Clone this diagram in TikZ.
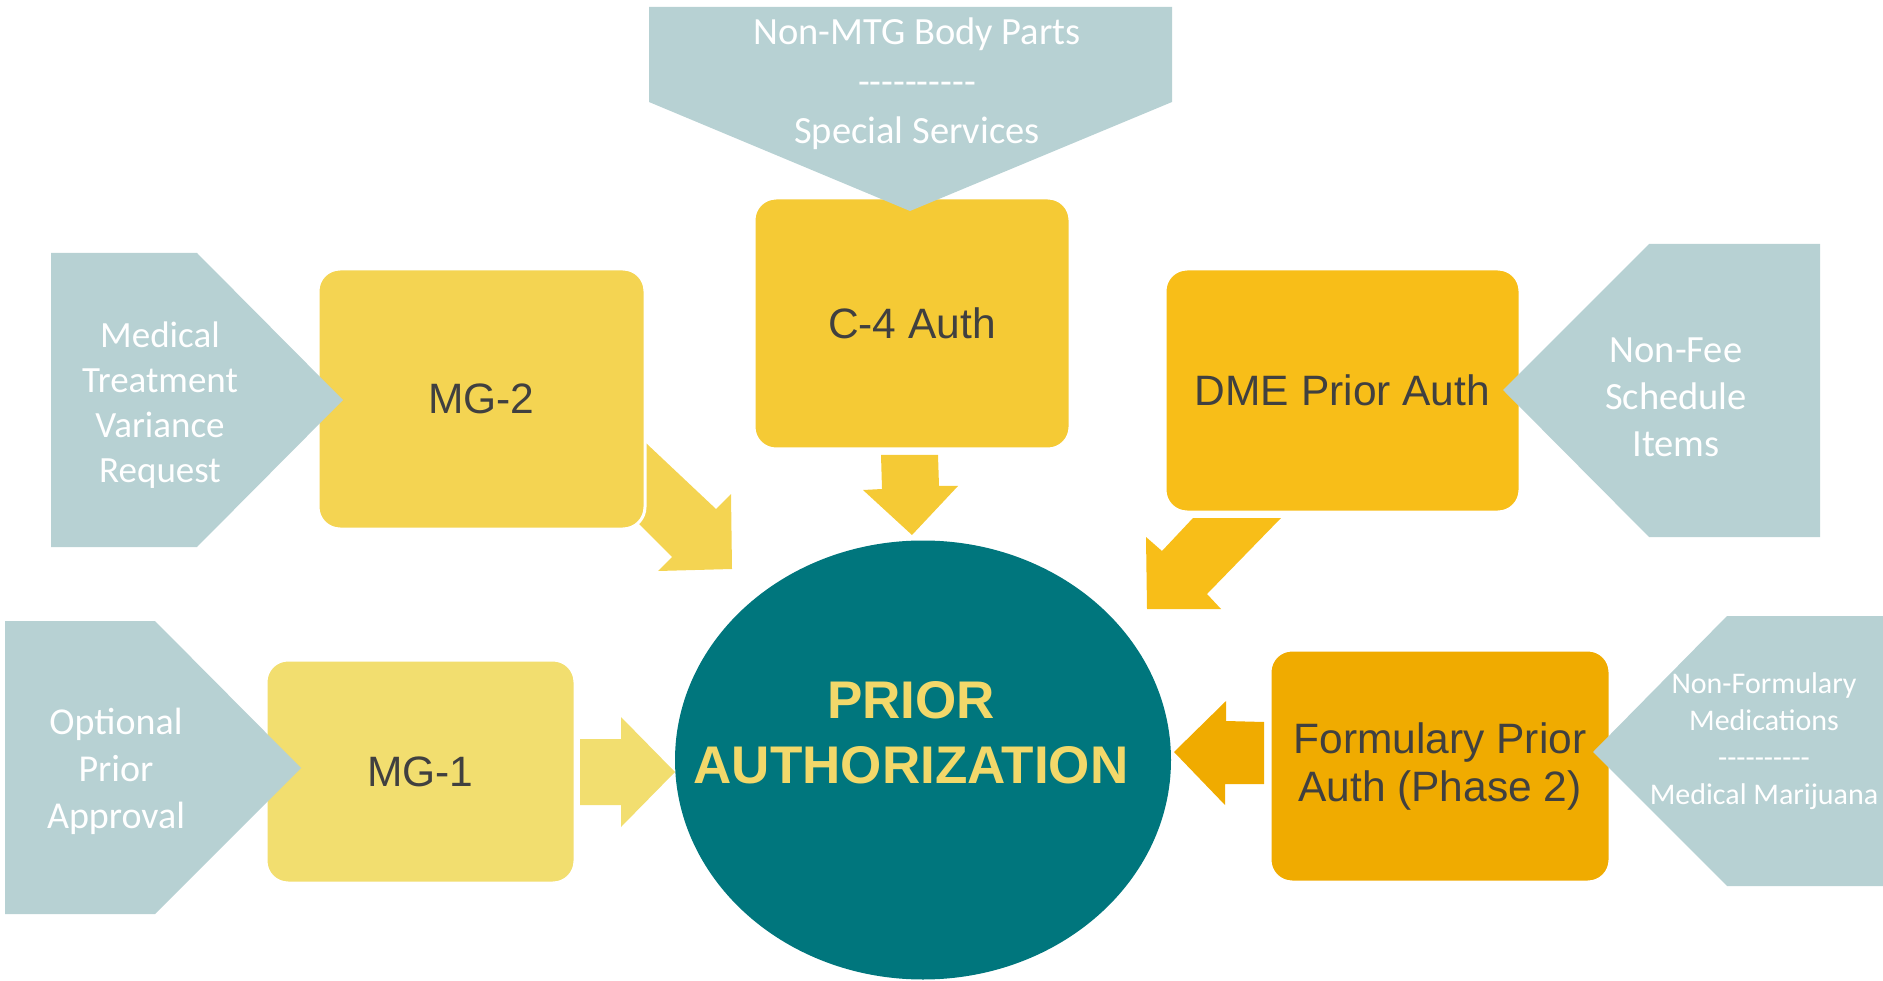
\documentclass[tikz,border=0pt]{standalone}
\usepackage{fontspec}
\newfontfamily\calib{Carlito}
\newfontfamily\arialf{Liberation Sans}
\usetikzlibrary{shapes.geometric}
\definecolor{pent}{HTML}{B7D1D3}
\definecolor{cmgone}{HTML}{F2DE6F}
\definecolor{cmgtwo}{HTML}{F4D452}
\definecolor{ccfour}{HTML}{F5CA35}
\definecolor{cdme}{HTML}{F8BE18}
\definecolor{cform}{HTML}{F0AB00}
\definecolor{cteal}{HTML}{00767D}
\definecolor{ctitle}{HTML}{F2D86A}
\definecolor{ctext}{HTML}{404040}
\begin{document}
\begin{tikzpicture}[x=1pt,y=-1pt,
  pentshape/.style={fill=pent},
  penttext/.style={text=white, align=center, inner sep=0pt},
  ybox/.style={rectangle, rounded corners=22pt, draw=white, line width=3pt,
    text=ctext, align=center, inner sep=0pt,
    font=\arialf\fontsize{42.5}{48}\selectfont},
  blockarrow/.style={draw=none}]
\useasboundingbox (0,0) rectangle (1883,981);

% centre ellipse
\node[ellipse, fill=cteal, minimum width=496pt, minimum height=439pt, inner sep=0pt] (pa) at (923,760) {};
\node[text=ctitle, align=center, inner sep=0pt,
  font=\arialf\bfseries\fontsize{53}{65}\selectfont] (patext) at (911,733) {PRIOR\\AUTHORIZATION};

% block arrows
\fill[cmgtwo] (630,428) -- (716,509) -- (731,494) -- (732,569) -- (658,571) -- (672,557) -- (620,505) -- cycle;
\fill[ccfour] (881,455) -- (938,455) -- (939,486) -- (958,486) -- (912,535) -- (863,490) -- (882,489) -- cycle;
\fill[cdme] (1193,518) -- (1281,518) -- (1207,594) -- (1221,609) -- (1147,609) -- (1146,537) -- (1162,551) -- cycle;
\fill[cmgone] (580,739) -- (621,739) -- (621,717) -- (675,772) -- (621,827) -- (621,805) -- (580,805) -- cycle;
\fill[cform] (1264,722) -- (1226,721) -- (1226,701) -- (1174,752) -- (1225,805) -- (1225,784) -- (1264,784) -- cycle;

% boxes
\node[ybox, fill=cmgtwo, minimum width=327pt, minimum height=260pt] (mg2) at (481.5,399) {MG-2};
\node[ybox, fill=ccfour, minimum width=316pt, minimum height=251pt] (c4) at (912,323.5) {C-4 Auth};
\node[ybox, fill=cdme, minimum width=355pt, minimum height=243pt] (dme) at (1342.5,390.5) {DME Prior Auth};
\node[ybox, fill=cmgone, minimum width=309pt, minimum height=223pt] (mg1) at (420.5,771.5) {MG-1};
\node[ybox, fill=cform, minimum width=340pt, minimum height=232pt] (form) at (1440,766) {Formulary Prior\\Auth (Phase 2)};

% pentagons
\fill[pentshape] (649,7) -- (1172,7) -- (1172,102) -- (910,211) -- (649,102) -- cycle;
\node[penttext, font=\calib\fontsize{38.5}{49.5}\selectfont] (ptop) at (917,84) {Non-MTG Body Parts\\----------\\Special Services};

\fill[pentshape] (51,253) -- (197,253) -- (343,400) -- (197,547) -- (51,547) -- cycle;
\node[penttext, font=\calib\fontsize{37}{45}\selectfont] (pmtv) at (160,405) {Medical\\Treatment\\Variance\\Request};

\fill[pentshape] (1820,244) -- (1820,537) -- (1649,537) -- (1503,390) -- (1649,244) -- cycle;
\node[penttext, font=\calib\fontsize{38.5}{47}\selectfont] (pnfs) at (1676,397) {Non-Fee\\Schedule\\Items};

\fill[pentshape] (5,621) -- (155,621) -- (301,768) -- (155,914) -- (5,914) -- cycle;
\node[penttext, font=\calib\fontsize{38}{47}\selectfont] (popa) at (116,771) {Optional\\Prior\\Approval};

\fill[pentshape] (1883,616) -- (1883,886) -- (1727,886) -- (1593,752) -- (1727,616) -- cycle;
\node[penttext, font=\calib\fontsize{30}{37}\selectfont] (pnfm) at (1764,741) {Non-Formulary\\Medications\\----------\\Medical Marijuana};
\end{tikzpicture}
\end{document}
